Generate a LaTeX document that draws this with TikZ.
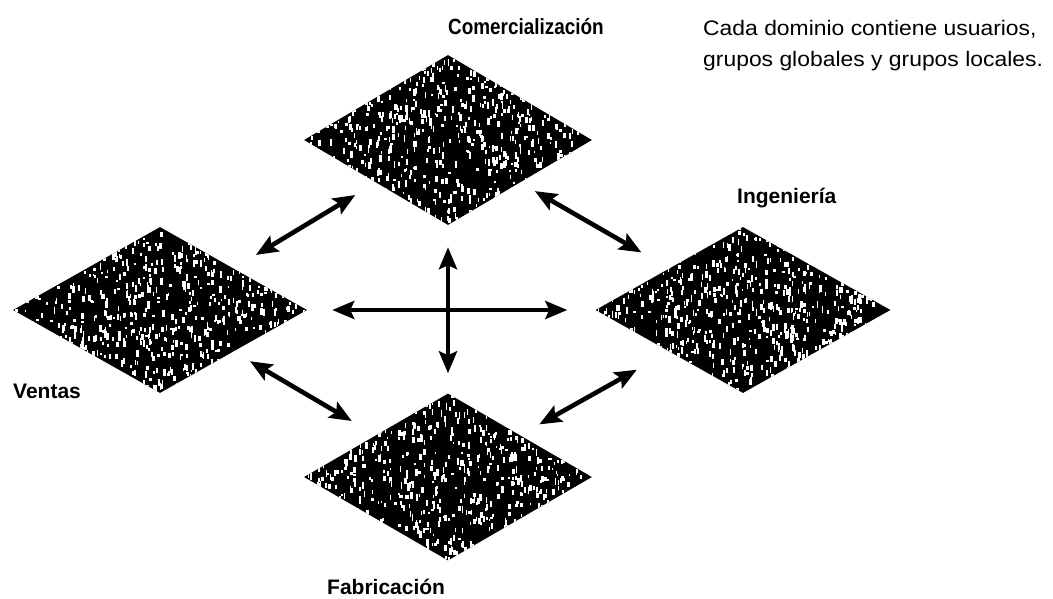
\documentclass[tikz,border=0pt]{standalone}
\usepackage{fontspec}
\usepackage{graphicx}
\setmainfont{Liberation Sans}
\newfontfamily\widesans[FakeStretch=1.09]{Liberation Sans}
\usetikzlibrary{shapes.geometric,arrows.meta,calc}
\newcommand\speckle{%
  \foreach \i in {1,...,950}{%
    \pgfmathsetmacro\rx{rand*150}%
    \pgfmathsetmacro\ry{rand*88}%
    \pgfmathsetmacro\rw{1+2.2*rnd}%
    \pgfmathsetmacro\rh{2+5*rnd}%
    \fill[white] ($(path picture bounding box.center)+(\rx pt,\ry pt)$) rectangle +(\rw pt,\rh pt);
  }%
}
\begin{document}
\begin{tikzpicture}[x=1pt,y=-1pt,
  dom/.style={diamond,inner sep=0pt,fill=black,draw=none,path picture={\speckle}},
  arr/.style={{Stealth[length=22pt,width=18pt,inset=4pt]}-{Stealth[length=22pt,width=18pt,inset=4pt]},line width=4.6pt},
  lab/.style={font=\fontsize{21}{25}\selectfont\bfseries,inner sep=0pt},
  note/.style={font=\fontsize{21}{25}\selectfont\widesans,inner sep=0pt}]
\pgfmathsetseed{7}
\useasboundingbox (0,0) rectangle (1053,599);
% domains
\node[dom,minimum width=288pt,minimum height=170pt] (T) at (448,140) {};
\node[dom,minimum width=294pt,minimum height=166pt] (L) at (160,310) {};
\node[dom,minimum width=295pt,minimum height=166pt] (R) at (743,310) {};
\node[dom,minimum width=288pt,minimum height=167pt] (B) at (448,477) {};
% connectors
\draw[arr,shorten <=26pt,shorten >=24pt] ($(L.north)!.5!(L.east)$) -- ($(T.west)!.5!(T.south)$);
\draw[arr,shorten <=17pt,shorten >=32pt] ($(T.east)!.5!(T.south)$) -- ($(R.north)!.5!(R.west)$);
\draw[arr,shorten <=25pt,shorten >=28pt] (L.east) -- (R.west);
\draw[arr,shorten <=22pt,shorten >=20pt] (T.south) -- (B.north);
\draw[arr,shorten <=19pt,shorten >=28pt] ($(L.east)!.5!(L.south)$) -- ($(B.west)!.5!(B.north)$);
\draw[arr,shorten <=22pt,shorten >=37pt] ($(B.north)!.5!(B.east)$) -- ($(R.west)!.5!(R.south)$);
% labels
\node[lab,anchor=base west] (tC) at (448,35) {\scalebox{0.9}[1.05]{Comercialización}};
\node[lab,anchor=base west] (tI) at (737,204) {Ingeniería};
\node[lab,anchor=base west] (tV) at (13,398) {Ventas};
\node[lab,anchor=base west] (tF) at (327,594) {Fabricación};
\node[note,anchor=base west] (n1) at (703,36) {Cada dominio contiene usuarios,};
\node[note,anchor=base west] (n2) at (703,67) {grupos globales y grupos locales.};
\end{tikzpicture}
\end{document}
